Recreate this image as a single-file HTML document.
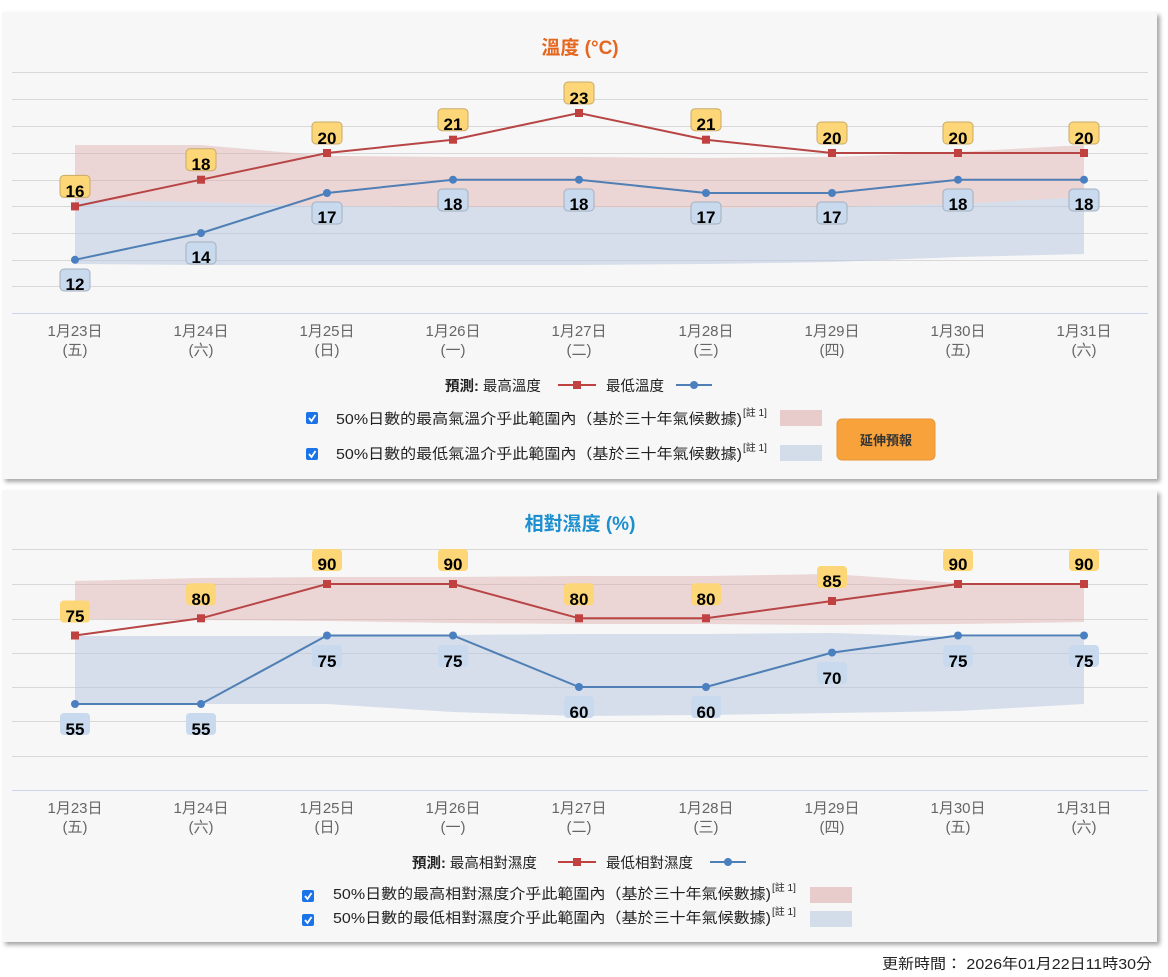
<!DOCTYPE html>
<html><head><meta charset="utf-8"><style>
html,body{margin:0;padding:0;background:#fff;width:1168px;height:977px;overflow:hidden}
svg{display:block}
text{font-family:"Liberation Sans","Noto Sans CJK TC",sans-serif}
.ax{font-size:15px;fill:#666;text-anchor:middle}
.lb{font-size:17px;font-weight:bold;fill:#000;text-anchor:middle}
.lg{font-size:14.5px;fill:#222}
.g{stroke:#d8d8d8;stroke-width:1}
</style></head><body>
<svg width="1168" height="977" viewBox="0 0 1168 977">
<defs>
<filter id="sh" x="-2%" y="-2%" width="105%" height="106%"><feDropShadow dx="3" dy="3" stdDeviation="2" flood-color="#000" flood-opacity="0.35"/></filter>
</defs>
<!-- Panel 1 -->
<rect x="2" y="12" width="1155" height="467" fill="#f7f7f7" filter="url(#sh)"/>
<text x="580" y="54" text-anchor="middle" style="font-size:19px;font-weight:bold;fill:#e5661f">溫度 (°C)</text>
<g class="g">
<line x1="12" x2="1148" y1="72.5" y2="72.5"/><line x1="12" x2="1148" y1="99.5" y2="99.5"/><line x1="12" x2="1148" y1="126.5" y2="126.5"/><line x1="12" x2="1148" y1="153.5" y2="153.5"/><line x1="12" x2="1148" y1="180.5" y2="180.5"/><line x1="12" x2="1148" y1="206.5" y2="206.5"/><line x1="12" x2="1148" y1="233.5" y2="233.5"/><line x1="12" x2="1148" y1="260.5" y2="260.5"/><line x1="12" x2="1148" y1="286.5" y2="286.5"/>
</g>
<line x1="12" x2="1148" y1="313.5" y2="313.5" stroke="#ccd6eb"/>
<polygon points="75,145 201,145 327,156 453,157 579,157 706,158 832,157 958,152 1084,145 1084,197 958,204 832,207 706,208 579,207 453,207 327,206 201,202 75,200" fill="#ddaaaa" opacity="0.45"/>
<polygon points="75,200 201,202 327,206 453,207 579,207 706,208 832,207 958,204 1084,197 1084,254 958,257 832,262 706,264 579,265 453,265 327,265 201,265 75,264" fill="#b3c6dd" opacity="0.5"/>
<polyline points="75,206.4 201,179.7 327,153 453,139.7 579,113 706,139.7 832,153 958,153 1084,153" fill="none" stroke="#b84545" stroke-width="2"/>
<polyline points="75,259.8 201,233.1 327,193 453,179.7 579,179.7 706,193 832,193 958,179.7 1084,179.7" fill="none" stroke="#4f7fb5" stroke-width="2"/>
<g fill="#c0413f">
<rect x="71" y="202.4" width="8" height="8"/><rect x="197" y="175.7" width="8" height="8"/><rect x="323" y="149" width="8" height="8"/><rect x="449" y="135.7" width="8" height="8"/><rect x="575" y="109" width="8" height="8"/><rect x="702" y="135.7" width="8" height="8"/><rect x="828" y="149" width="8" height="8"/><rect x="954" y="149" width="8" height="8"/><rect x="1080" y="149" width="8" height="8"/>
</g>
<g fill="#4a7fc0">
<circle cx="75" cy="259.8" r="4"/><circle cx="201" cy="233.1" r="4"/><circle cx="327" cy="193" r="4"/><circle cx="453" cy="179.7" r="4"/><circle cx="579" cy="179.7" r="4"/><circle cx="706" cy="193" r="4"/><circle cx="832" cy="193" r="4"/><circle cx="958" cy="179.7" r="4"/><circle cx="1084" cy="179.7" r="4"/>
</g>
<g fill="#fdd677" stroke="#c8ab6a" stroke-width="1">
<rect x="60" y="175.4" width="30" height="22" rx="4"/><rect x="186" y="148.7" width="30" height="22" rx="4"/><rect x="312" y="122" width="30" height="22" rx="4"/><rect x="438" y="108.7" width="30" height="22" rx="4"/><rect x="564" y="82" width="30" height="22" rx="4"/><rect x="691" y="108.7" width="30" height="22" rx="4"/><rect x="817" y="122" width="30" height="22" rx="4"/><rect x="943" y="122" width="30" height="22" rx="4"/><rect x="1069" y="122" width="30" height="22" rx="4"/>
</g>
<g class="lb">
<text x="75" y="197">16</text><text x="201" y="170">18</text><text x="327" y="144">20</text><text x="453" y="130">21</text><text x="579" y="104">23</text><text x="706" y="130">21</text><text x="832" y="144">20</text><text x="958" y="144">20</text><text x="1084" y="144">20</text>
</g>
<g fill="#c9daee" stroke="#a4b0bf" stroke-width="1">
<rect x="60" y="269" width="30" height="22" rx="4"/><rect x="186" y="242" width="30" height="22" rx="4"/><rect x="312" y="202" width="30" height="22" rx="4"/><rect x="438" y="189" width="30" height="22" rx="4"/><rect x="564" y="189" width="30" height="22" rx="4"/><rect x="691" y="202" width="30" height="22" rx="4"/><rect x="817" y="202" width="30" height="22" rx="4"/><rect x="943" y="189" width="30" height="22" rx="4"/><rect x="1069" y="189" width="30" height="22" rx="4"/>
</g>
<g class="lb">
<text x="75" y="290">12</text><text x="201" y="263">14</text><text x="327" y="223">17</text><text x="453" y="210">18</text><text x="579" y="210">18</text><text x="706" y="223">17</text><text x="832" y="223">17</text><text x="958" y="210">18</text><text x="1084" y="210">18</text>
</g>
<g class="ax">
<text x="75" y="336">1月23日</text><text x="201" y="336">1月24日</text><text x="327" y="336">1月25日</text><text x="453" y="336">1月26日</text><text x="579" y="336">1月27日</text><text x="706" y="336">1月28日</text><text x="832" y="336">1月29日</text><text x="958" y="336">1月30日</text><text x="1084" y="336">1月31日</text>
<text x="75" y="355">(五)</text><text x="201" y="355">(六)</text><text x="327" y="355">(日)</text><text x="453" y="355">(一)</text><text x="579" y="355">(二)</text><text x="706" y="355">(三)</text><text x="832" y="355">(四)</text><text x="958" y="355">(五)</text><text x="1084" y="355">(六)</text>
</g>
<text x="445" y="391" class="lg"><tspan font-weight="bold">預測:</tspan> 最高溫度</text>
<line x1="558" x2="596" y1="385" y2="385" stroke="#c0413f" stroke-width="2"/><rect x="573" y="381" width="8" height="8" fill="#c0413f"/>
<text x="606" y="391" class="lg">最低溫度</text>
<line x1="676" x2="712" y1="385" y2="385" stroke="#4f7fb5" stroke-width="2"/><circle cx="694" cy="385" r="4" fill="#4a7fc0"/>
<rect x="306" y="412" width="12" height="12" rx="2" fill="#1a73e8"/><path d="M309,418 l2.5,3 l4,-6" stroke="#fff" stroke-width="1.8" fill="none"/>
<text x="336" y="424" class="lg" textLength="406" lengthAdjust="spacingAndGlyphs">50%日數的最高氣溫介乎此範圍內（基於三十年氣候數據)</text><text x="743" y="416" style="font-size:10px;fill:#222">[註 1]</text>
<rect x="780" y="410" width="42" height="16" fill="#e8cccc"/>
<rect x="306" y="448" width="12" height="12" rx="2" fill="#1a73e8"/><path d="M309,454 l2.5,3 l4,-6" stroke="#fff" stroke-width="1.8" fill="none"/>
<text x="336" y="459" class="lg" textLength="406" lengthAdjust="spacingAndGlyphs">50%日數的最低氣溫介乎此範圍內（基於三十年氣候數據)</text><text x="743" y="451" style="font-size:10px;fill:#222">[註 1]</text>
<rect x="780" y="445" width="42" height="16" fill="#d2dde9"/>
<rect x="837" y="419" width="98" height="41" rx="5" fill="#f7a23b" stroke="#e8953a"/>
<text x="886" y="445" text-anchor="middle" style="font-size:13px;font-weight:bold;fill:#333">延伸預報</text>

<!-- Panel 2 -->
<rect x="2" y="490" width="1155" height="452" fill="#f7f7f7" filter="url(#sh)"/>
<text x="580" y="530" text-anchor="middle" style="font-size:19px;font-weight:bold;fill:#1c8fcf">相對濕度 (%)</text>
<g class="g">
<line x1="12" x2="1148" y1="549.5" y2="549.5"/><line x1="12" x2="1148" y1="584.5" y2="584.5"/><line x1="12" x2="1148" y1="619.5" y2="619.5"/><line x1="12" x2="1148" y1="653.5" y2="653.5"/><line x1="12" x2="1148" y1="687.5" y2="687.5"/><line x1="12" x2="1148" y1="721.5" y2="721.5"/><line x1="12" x2="1148" y1="756.5" y2="756.5"/>
</g>
<line x1="12" x2="1148" y1="790.5" y2="790.5" stroke="#ccd6eb"/>
<polygon points="75,581 201,578 327,577 453,577 579,576 706,576 832,574 958,583 1084,583 1084,622 958,624 832,625 706,624 579,624 453,623 327,621 201,620 75,619" fill="#ddaaaa" opacity="0.45"/>
<polygon points="75,636 201,636 327,636 453,635 579,634 706,634 832,633 958,637 1084,637 1084,704 958,711 832,713 706,715 579,716 453,712 327,704 201,704 75,704" fill="#b3c6dd" opacity="0.5"/>
<polyline points="75,635.5 201,618.3 327,584 453,584 579,618.3 706,618.3 832,601 958,584 1084,584" fill="none" stroke="#b84545" stroke-width="2"/>
<polyline points="75,704 201,704 327,635.5 453,635.5 579,687 706,687 832,652.6 958,635.5 1084,635.5" fill="none" stroke="#4f7fb5" stroke-width="2"/>
<g fill="#c0413f">
<rect x="71" y="631.5" width="8" height="8"/><rect x="197" y="614.3" width="8" height="8"/><rect x="323" y="580" width="8" height="8"/><rect x="449" y="580" width="8" height="8"/><rect x="575" y="614.3" width="8" height="8"/><rect x="702" y="614.3" width="8" height="8"/><rect x="828" y="597" width="8" height="8"/><rect x="954" y="580" width="8" height="8"/><rect x="1080" y="580" width="8" height="8"/>
</g>
<g fill="#4a7fc0">
<circle cx="75" cy="704" r="4"/><circle cx="201" cy="704" r="4"/><circle cx="327" cy="635.5" r="4"/><circle cx="453" cy="635.5" r="4"/><circle cx="579" cy="687" r="4"/><circle cx="706" cy="687" r="4"/><circle cx="832" cy="652.6" r="4"/><circle cx="958" cy="635.5" r="4"/><circle cx="1084" cy="635.5" r="4"/>
</g>
<g fill="#fdd677">
<rect x="60" y="600.5" width="30" height="22" rx="4"/><rect x="186" y="583.3" width="30" height="22" rx="4"/><rect x="312" y="549" width="30" height="22" rx="4"/><rect x="438" y="549" width="30" height="22" rx="4"/><rect x="564" y="583.3" width="30" height="22" rx="4"/><rect x="691" y="583.3" width="30" height="22" rx="4"/><rect x="817" y="566" width="30" height="22" rx="4"/><rect x="943" y="549" width="30" height="22" rx="4"/><rect x="1069" y="549" width="30" height="22" rx="4"/>
</g>
<g class="lb">
<text x="75" y="622">75</text><text x="201" y="605">80</text><text x="327" y="570">90</text><text x="453" y="570">90</text><text x="579" y="605">80</text><text x="706" y="605">80</text><text x="832" y="587">85</text><text x="958" y="570">90</text><text x="1084" y="570">90</text>
</g>
<g fill="#c9daee">
<rect x="60" y="713" width="30" height="22" rx="4"/><rect x="186" y="713" width="30" height="22" rx="4"/><rect x="312" y="645" width="30" height="22" rx="4"/><rect x="438" y="645" width="30" height="22" rx="4"/><rect x="564" y="696" width="30" height="22" rx="4"/><rect x="691" y="696" width="30" height="22" rx="4"/><rect x="817" y="662" width="30" height="22" rx="4"/><rect x="943" y="645" width="30" height="22" rx="4"/><rect x="1069" y="645" width="30" height="22" rx="4"/>
</g>
<g class="lb">
<text x="75" y="735">55</text><text x="201" y="735">55</text><text x="327" y="667">75</text><text x="453" y="667">75</text><text x="579" y="718">60</text><text x="706" y="718">60</text><text x="832" y="684">70</text><text x="958" y="667">75</text><text x="1084" y="667">75</text>
</g>
<g class="ax">
<text x="75" y="813">1月23日</text><text x="201" y="813">1月24日</text><text x="327" y="813">1月25日</text><text x="453" y="813">1月26日</text><text x="579" y="813">1月27日</text><text x="706" y="813">1月28日</text><text x="832" y="813">1月29日</text><text x="958" y="813">1月30日</text><text x="1084" y="813">1月31日</text>
<text x="75" y="832">(五)</text><text x="201" y="832">(六)</text><text x="327" y="832">(日)</text><text x="453" y="832">(一)</text><text x="579" y="832">(二)</text><text x="706" y="832">(三)</text><text x="832" y="832">(四)</text><text x="958" y="832">(五)</text><text x="1084" y="832">(六)</text>
</g>
<text x="412" y="868" class="lg"><tspan font-weight="bold">預測:</tspan> 最高相對濕度</text>
<line x1="558" x2="596" y1="862" y2="862" stroke="#c0413f" stroke-width="2"/><rect x="573" y="858" width="8" height="8" fill="#c0413f"/>
<text x="606" y="868" class="lg">最低相對濕度</text>
<line x1="710" x2="746" y1="862" y2="862" stroke="#4f7fb5" stroke-width="2"/><circle cx="728" cy="862" r="4" fill="#4a7fc0"/>
<rect x="302" y="890" width="12" height="12" rx="2" fill="#1a73e8"/><path d="M305,896 l2.5,3 l4,-6" stroke="#fff" stroke-width="1.8" fill="none"/>
<text x="333" y="899" class="lg" textLength="438" lengthAdjust="spacingAndGlyphs">50%日數的最高相對濕度介乎此範圍內（基於三十年氣候數據)</text><text x="772" y="891" style="font-size:10px;fill:#222">[註 1]</text>
<rect x="810" y="887" width="42" height="16" fill="#e8cccc"/>
<rect x="302" y="914" width="12" height="12" rx="2" fill="#1a73e8"/><path d="M305,920 l2.5,3 l4,-6" stroke="#fff" stroke-width="1.8" fill="none"/>
<text x="333" y="923" class="lg" textLength="438" lengthAdjust="spacingAndGlyphs">50%日數的最低相對濕度介乎此範圍內（基於三十年氣候數據)</text><text x="772" y="915" style="font-size:10px;fill:#222">[註 1]</text>
<rect x="810" y="911" width="42" height="16" fill="#d2dde9"/>
<text x="1152" y="969" text-anchor="end" class="lg" textLength="270" lengthAdjust="spacingAndGlyphs">更新時間： 2026年01月22日11時30分</text>
</svg>
</body></html>
